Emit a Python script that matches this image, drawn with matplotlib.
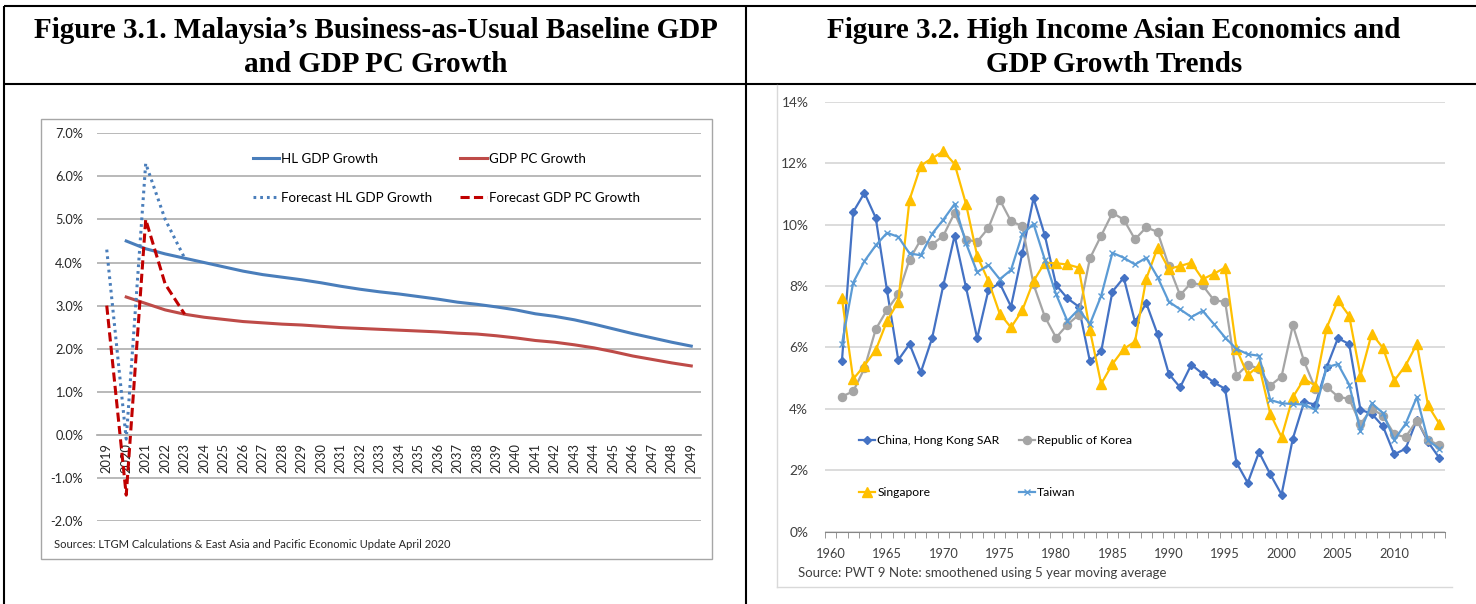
import numpy as np
import matplotlib.pyplot as plt
from matplotlib.lines import Line2D
from matplotlib.patches import Rectangle

# ---- Figure 3.1 data (percent)
years_l = np.arange(2019, 2050)
fc_years = [2019, 2020, 2021, 2022, 2023]
fc_hl_gdp = [4.3, -0.1, 6.3, 5.0, 4.1]
fc_gdp_pc = [3.0, -1.4, 5.0, 3.5, 2.8]
base_years = np.arange(2020, 2050)
hl_gdp = [4.50, 4.32, 4.20, 4.10, 4.00, 3.90, 3.80, 3.72, 3.66, 3.60,
          3.53, 3.45, 3.38, 3.32, 3.27, 3.21, 3.15, 3.08, 3.03, 2.97,
          2.90, 2.81, 2.75, 2.67, 2.57, 2.46, 2.35, 2.25, 2.15, 2.06]
gdp_pc = [3.20, 3.05, 2.90, 2.80, 2.73, 2.68, 2.63, 2.60, 2.57, 2.55,
          2.52, 2.49, 2.47, 2.45, 2.43, 2.41, 2.39, 2.36, 2.34, 2.30,
          2.25, 2.19, 2.15, 2.09, 2.02, 1.93, 1.83, 1.75, 1.67, 1.60]

# ---- Figure 3.2 data (percent, 1961-2014)
years_r = np.arange(1961, 2015)
hong_kong = [5.55, 10.41, 11.03, 10.22, 7.86, 5.59, 6.11, 5.19, 6.30, 8.03,
             9.64, 7.97, 6.30, 7.87, 8.09, 7.33, 9.06, 10.86, 9.65, 8.03,
             7.60, 7.33, 5.55, 5.87, 7.82, 8.27, 6.83, 7.44, 6.43, 5.14,
             4.70, 5.44, 5.14, 4.86, 4.65, 2.25, 1.59, 2.59, 1.87, 1.21,
             3.03, 4.22, 4.14, 5.35, 6.30, 6.11, 3.97, 3.84, 3.43, 2.52,
             2.70, 3.64, 2.92, 2.40]
korea = [4.40, 4.57, 5.32, 6.59, 7.22, 7.73, 8.86, 9.51, 9.35, 9.64,
         10.38, 9.51, 9.44, 9.89, 10.81, 10.11, 9.95, 8.05, 7.00, 6.32,
         6.74, 7.06, 8.90, 9.64, 10.38, 10.16, 9.52, 9.91, 9.76, 8.65,
         7.70, 8.11, 8.02, 7.54, 7.48, 5.08, 5.44, 5.30, 4.76, 5.05,
         6.72, 5.55, 4.65, 4.72, 4.40, 4.32, 3.51, 4.00, 3.78, 3.17,
         3.08, 3.62, 2.99, 2.81]
singapore = [7.60, 4.97, 5.41, 5.91, 6.86, 7.49, 10.81, 11.92, 12.16, 12.38,
             11.97, 10.68, 8.98, 8.16, 7.10, 6.65, 7.21, 8.16, 8.76, 8.74,
             8.70, 8.60, 6.56, 4.81, 5.46, 5.95, 6.19, 8.24, 9.24, 8.56,
             8.65, 8.76, 8.22, 8.40, 8.60, 5.95, 5.10, 5.41, 3.84, 3.08,
             4.38, 4.97, 4.76, 6.63, 7.54, 7.03, 5.08, 6.45, 5.98, 4.92,
             5.41, 6.11, 4.11, 3.51]
taiwan = [6.10, 8.11, 8.81, 9.32, 9.73, 9.60, 9.06, 9.00, 9.70, 10.16,
          10.67, 9.40, 8.45, 8.68, 8.22, 8.52, 9.68, 10.02, 8.86, 7.73,
          6.86, 7.24, 6.76, 7.68, 9.08, 8.92, 8.70, 8.92, 8.29, 7.49,
          7.24, 6.99, 7.19, 6.76, 6.32, 5.95, 5.78, 5.73, 4.29, 4.18,
          4.16, 4.14, 3.97, 5.35, 5.46, 4.79, 3.28, 4.18, 3.86, 2.99,
          3.51, 4.38, 2.97, 2.70]

W, H = 1476, 604
def px(x0, y0, x1, y1):
    return [x0 / W, 1 - y1 / H, (x1 - x0) / W, (y1 - y0) / H]

plt.rcParams['font.family'] = ['Lato', 'DejaVu Sans']
fig = plt.figure(figsize=(14.76, 6.04), dpi=100)

# === table frame and titles
bg = fig.add_axes([0, 0, 1, 1])
bg.set_xlim(0, W)
bg.set_ylim(H, 0)
bg.axis('off')
for xs, ys in [([4, W], [6, 6]), ([4, W], [84, 84]), ([4, 4], [6, H]), ([746, 746], [6, H])]:
    bg.plot(xs, ys, color='k', lw=1.5, solid_capstyle='butt')
tkw = dict(ha='center', va='center', family='Liberation Serif', weight='bold', size=21)
bg.text(376, 30, "Figure 3.1. Malaysia\u2019s Business-as-Usual Baseline GDP", **tkw)
bg.text(376, 65, "and GDP PC Growth", **tkw)
bg.text(1114, 30, "Figure 3.2. High Income Asian Economics and", **tkw)
bg.text(1114, 65, "GDP Growth Trends", **tkw)
bg.add_patch(Rectangle((41, 119), 671, 440, fill=False, ec='#A6A6A6', lw=1))
bg.plot([777, 777], [85, 587], color='#D9D9D9', lw=1)
bg.plot([777, 1452], [587, 587], color='#D9D9D9', lw=1)
bg.text(54, 545, "Sources: LTGM Calculations & East Asia and Pacific Economic Update April 2020",
        size=8, color='#262626', va='center')
bg.text(798, 573, "Source: PWT 9 Note: smoothened using 5 year moving average",
        size=9.5, color='#404040', va='center')

# === Figure 3.1
ax1 = fig.add_axes(px(97, 133.3, 701, 521))
ax1.set_xlim(2018.5, 2049.5)
ax1.set_ylim(-2, 7)
for s in ['left', 'right', 'top']:
    ax1.spines[s].set_visible(False)
ax1.spines['bottom'].set_position(('data', 0))
ax1.spines['bottom'].set_color('#B3B3B3')
ax1.spines['bottom'].set_linewidth(1.3)
ax1.set_yticks(np.arange(-2, 8))
ax1.set_yticklabels([f"{v:.1f}%" for v in np.arange(-2, 8)])
ax1.set_xticks(years_l)
ax1.set_xticklabels([str(y) for y in years_l])
ax1.grid(axis='y', color='#B3B3B3', lw=1.3)
ax1.set_axisbelow(True)
ax1.tick_params(axis='x', length=0, pad=6, labelsize=9.3, colors='#262626', labelrotation=90)
ax1.tick_params(axis='y', length=0, pad=10, labelsize=9.2, colors='#262626')

l_hl, = ax1.plot(base_years, hl_gdp, color='#4A7EBB', lw=2.2, label='HL GDP Growth')
l_pc, = ax1.plot(base_years, gdp_pc, color='#BE4B48', lw=2.2, label='GDP PC Growth')
l_fhl, = ax1.plot(fc_years, fc_hl_gdp, color='#4A7EBB', lw=2.2, dashes=(0.9, 1.3),
                  label='Forecast HL GDP Growth')
l_fpc, = ax1.plot(fc_years, fc_gdp_pc, color='#C00000', lw=2.2, dashes=(3, 1.4),
                  label='Forecast GDP PC Growth')
ax1.legend(handles=[l_hl, l_fhl, l_pc, l_fpc], ncol=2, frameon=False, fontsize=9.6,
           loc='upper left', bbox_to_anchor=(252.7 / W, 1 - 153 / H), bbox_transform=fig.transFigure,
           borderpad=0, borderaxespad=0, handlelength=2.0, handletextpad=0.15,
           columnspacing=2.1, labelspacing=2.0)

# === Figure 3.2
ax2 = fig.add_axes(px(825, 101.7, 1445, 531.7))
ax2.set_xlim(1959.5, 2014.5)
ax2.set_ylim(0, 14)
ax2.set_yticks(np.arange(0, 15, 2))
ax2.set_yticklabels([f"{v}%" for v in range(0, 15, 2)])
ax2.set_xticks(np.arange(1960, 2011, 5))
ax2.set_xticks(np.arange(1959.5, 2015, 1), minor=True)
ax2.grid(axis='y', color='#D9D9D9', lw=1.3)
ax2.set_axisbelow(True)
for s in ['left', 'right', 'top']:
    ax2.spines[s].set_visible(False)
ax2.spines['bottom'].set_color('#868686')
ax2.tick_params(axis='x', which='major', length=0, pad=12, labelsize=9.3, colors='#404040')
ax2.tick_params(axis='x', which='minor', length=4, color='#868686')
ax2.tick_params(axis='y', length=0, pad=12, labelsize=9.9, colors='#404040')

h_hk, = ax2.plot(years_r, hong_kong, color='#4472C4', lw=1.6, marker='D', ms=4.5,
                 label='China, Hong Kong SAR')
h_kr, = ax2.plot(years_r, korea, color='#A5A5A5', lw=1.6, marker='o', ms=5.8,
                 label='Republic of Korea')
h_sg, = ax2.plot(years_r, singapore, color='#FFC000', lw=1.6, marker='^', ms=7,
                 label='Singapore')
h_tw, = ax2.plot(years_r, taiwan, color='#5B9BD5', lw=1.6, marker='x', ms=5, mew=1,
                 label='Taiwan')
ax2.legend(handles=[h_hk, h_sg, h_kr, h_tw], ncol=2, frameon=False, fontsize=8.7,
           loc='upper left', bbox_to_anchor=(859 / W, 1 - 435 / H), bbox_transform=fig.transFigure,
           borderpad=0, borderaxespad=0, handlelength=1.35, handletextpad=0.15,
           columnspacing=1.6, labelspacing=3.4)

fig.savefig('out.png', dpi=100)
